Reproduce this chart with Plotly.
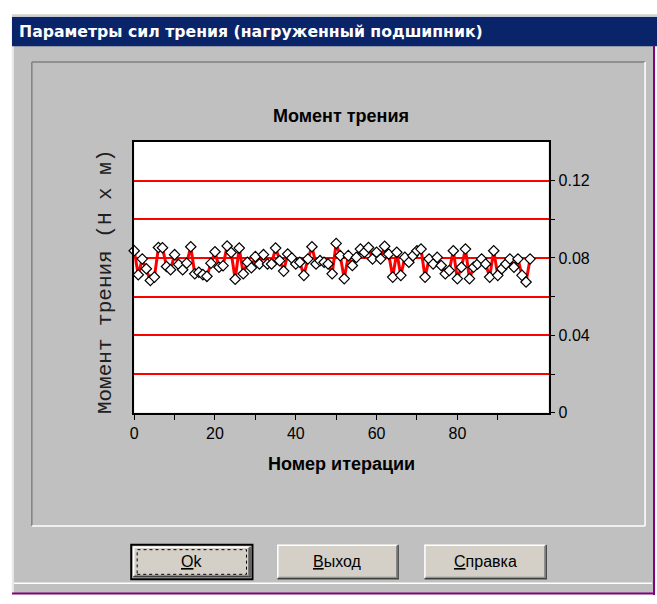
import plotly.graph_objects as go

# ---------------- data ----------------
iterations = list(range(99))
friction_moment = [
    0.0837, 0.0713, 0.0795, 0.0744, 0.0684, 0.0701, 0.0854, 0.0853, 0.0756, 0.0739,
    0.0817, 0.0766, 0.0739, 0.0773, 0.0858, 0.0718, 0.0726, 0.0714, 0.0705, 0.0773,
    0.0832, 0.0752, 0.0760, 0.0862, 0.0828, 0.0690, 0.0851, 0.0718, 0.0778, 0.0749,
    0.0807, 0.0769, 0.0817, 0.0769, 0.0769, 0.0851, 0.0786, 0.0732, 0.0820, 0.0800,
    0.0769, 0.0778, 0.0710, 0.0795, 0.0858, 0.0769, 0.0786, 0.0778, 0.0769, 0.0718,
    0.0875, 0.0812, 0.0693, 0.0812, 0.0761, 0.0803, 0.0846, 0.0829, 0.0854, 0.0795,
    0.0829, 0.0795, 0.0860, 0.0820, 0.0701, 0.0829, 0.0710, 0.0803, 0.0778, 0.0812,
    0.0837, 0.0846, 0.0701, 0.0795, 0.0769, 0.0803, 0.0761, 0.0718, 0.0735, 0.0837,
    0.0693, 0.0752, 0.0846, 0.0693, 0.0752, 0.0769, 0.0795, 0.0769, 0.0701, 0.0837,
    0.0710, 0.0744, 0.0769, 0.0795, 0.0752, 0.0795, 0.0710, 0.0676, 0.0795,
]
x_tick_vals = [0, 10, 20, 30, 40, 50, 60, 70, 80, 90]
x_tick_text = ["0", "", "20", "", "40", "", "60", "", "80", ""]
y_tick_vals = [0, 0.02, 0.04, 0.06, 0.08, 0.10, 0.12]
y_tick_text = ["0", "", "0.04", "", "0.08", "", "0.12"]

window_title = "Параметры сил трения (нагруженный подшипник)"
chart_title = "Момент трения"
x_title = "Номер итерации"
y_title = "Момент трения (Н х м)"
buttons = ["<u>O</u>k", "<u>В</u>ыход", "<u>С</u>правка"]

# ---------------- geometry helpers ----------------
W, H = 657, 604
def px(x):
    return x / W
def py(y):
    return 1 - y / H

PL, PR, PT, PB = 131, 548, 144, 419

shapes = []
def rect(x0, y0, x1, y1, fill=None, line=None, lw=1, dash=None, layer="below"):
    d = dict(type="rect", xref="paper", yref="paper",
             x0=px(x0), x1=px(x1), y0=py(y1), y1=py(y0), layer=layer,
             fillcolor=fill if fill else "rgba(0,0,0,0)",
             line=dict(width=lw if line else 0, color=line if line else "rgba(0,0,0,0)"))
    if dash:
        d["line"]["dash"] = dash
    shapes.append(d)

def seg(x0, y0, x1, y1, color, lw=1, layer="below"):
    shapes.append(dict(type="line", xref="paper", yref="paper",
                       x0=px(x0), x1=px(x1), y0=py(y0), y1=py(y1), layer=layer,
                       line=dict(color=color, width=lw)))

# dialog body
rect(8, 46, 654, 602, fill="#C0C0C0")
seg(9, 46, 9, 602, "#E8E8E8", 2)
# title bar
rect(8, 17, 657, 47, fill="#0A246A")
seg(8, 15.5, 657, 15.5, "#D4D0C8", 2)
# panel frame (etched)
seg(28, 63, 645, 63, "#808080", 1.5)
seg(28, 63, 28, 534, "#808080", 1.5)
seg(28, 534, 645, 534, "#FFFFFF", 1.5)
seg(645, 63, 645, 534, "#FFFFFF", 1.5)
# plot area background
rect(PL, PT, PR, PB, fill="#FFFFFF")
# bottom separator and purple border
seg(10, 592, 652, 592, "#FFFFFF", 1.5)
seg(654, 46, 654, 604, "#800080", 2)
seg(8, 602.5, 654, 602.5, "#800080", 2)

# buttons
btn_x = [(128, 250), (275, 397), (423, 546)]
by0, by1 = 553, 588
annotations = []
for k, (bx0, bx1) in enumerate(btn_x):
    rect(bx0, by0, bx1, by1, fill="#D4D0C8")
    if k == 0:
        rect(bx0, by0, bx1, by1, line="#000000", lw=2)
        ix0, iy0, ix1, iy1 = bx0 + 2, by0 + 2, bx1 - 2, by1 - 2
    else:
        ix0, iy0, ix1, iy1 = bx0, by0, bx1, by1
    seg(ix0, iy0 + 0.5, ix1, iy0 + 0.5, "#FFFFFF", 1.5)
    seg(ix0 + 0.5, iy0, ix0 + 0.5, iy1, "#FFFFFF", 1.5)
    seg(ix0, iy1 - 0.5, ix1, iy1 - 0.5, "#404040", 1.5)
    seg(ix1 - 0.5, iy0, ix1 - 0.5, iy1, "#404040", 1.5)
    seg(ix0 + 1, iy1 - 2, ix1 - 1, iy1 - 2, "#808080", 1)
    seg(ix1 - 2, iy0 + 1, ix1 - 2, iy1 - 1, "#808080", 1)
    if k == 0:
        rect(bx0 + 6, by0 + 5, bx1 - 6, by1 - 5, line="#000000", lw=1, dash="dot", layer="above")
    annotations.append(dict(text=buttons[k], xref="paper", yref="paper",
                            x=px((bx0 + bx1) / 2), y=py((by0 + by1) / 2 - 1),
                            xanchor="center", yanchor="middle", showarrow=False,
                            font=dict(family="Liberation Sans, Arial", size=16, color="#000000")))

# texts
annotations.append(dict(text=window_title, xref="paper", yref="paper",
                        x=px(13), y=py(32), xanchor="left", yanchor="middle", showarrow=False,
                        font=dict(family="DejaVu Sans", size=15.7, color="#FFFFFF", weight="bold")))
annotations.append(dict(text="<b>" + chart_title + "</b>", xref="paper", yref="paper",
                        x=px(339), y=py(118), xanchor="center", yanchor="middle", showarrow=False,
                        font=dict(family="Liberation Sans, Arial", size=18, color="#000000")))
annotations.append(dict(text="<b>" + x_title + "</b>", xref="paper", yref="paper",
                        x=px(340), y=py(471), xanchor="center", yanchor="middle", showarrow=False,
                        font=dict(family="Liberation Sans, Arial", size=18, color="#000000")))
annotations.append(dict(text=y_title, xref="paper", yref="paper", textangle=-90,
                        x=px(102), y=py(286), xanchor="center", yanchor="middle", showarrow=False,
                        font=dict(family="Liberation Mono, Courier New, monospace", size=21, color="#202020")))

fig = go.Figure()
fig.add_trace(go.Scatter(
    x=iterations, y=friction_moment, mode="lines+markers",
    line=dict(color="#FF0000", width=3),
    marker=dict(symbol="diamond", size=8, color="#FFFFFF", line=dict(color="#000000", width=1.2)),
    cliponaxis=False, showlegend=False, hoverinfo="x+y",
))

fig.update_layout(
    width=W, height=H,
    margin=dict(l=0, r=0, t=0, b=0),
    paper_bgcolor="#FFFFFF", plot_bgcolor="#FFFFFF",
    shapes=shapes, annotations=annotations,
    showlegend=False,
    xaxis=dict(domain=[px(PL), px(PR)], range=[0, 102.6],
               tickvals=x_tick_vals, ticktext=x_tick_text,
               ticks="outside", ticklen=5, tickwidth=1, tickcolor="#000000",
               showline=True, linecolor="#000000", linewidth=1.5, mirror=True,
               showgrid=False, zeroline=False,
               tickfont=dict(family="Liberation Sans, Arial", size=16, color="#000000")),
    yaxis=dict(domain=[py(PB), py(PT)], range=[0, 0.14], side="right",
               tickvals=y_tick_vals, ticktext=y_tick_text,
               ticks="outside", ticklen=5, tickwidth=1, tickcolor="#000000",
               showline=True, linecolor="#000000", linewidth=1.5, mirror=True,
               showgrid=True, gridcolor="#FF0000", gridwidth=2, zeroline=False,
               tickfont=dict(family="Liberation Sans, Arial", size=16, color="#000000")),
)

fig.write_html("out.html", config={"displayModeBar": False},
               post_script="document.body.style.margin='0';document.body.style.overflow='hidden';")
